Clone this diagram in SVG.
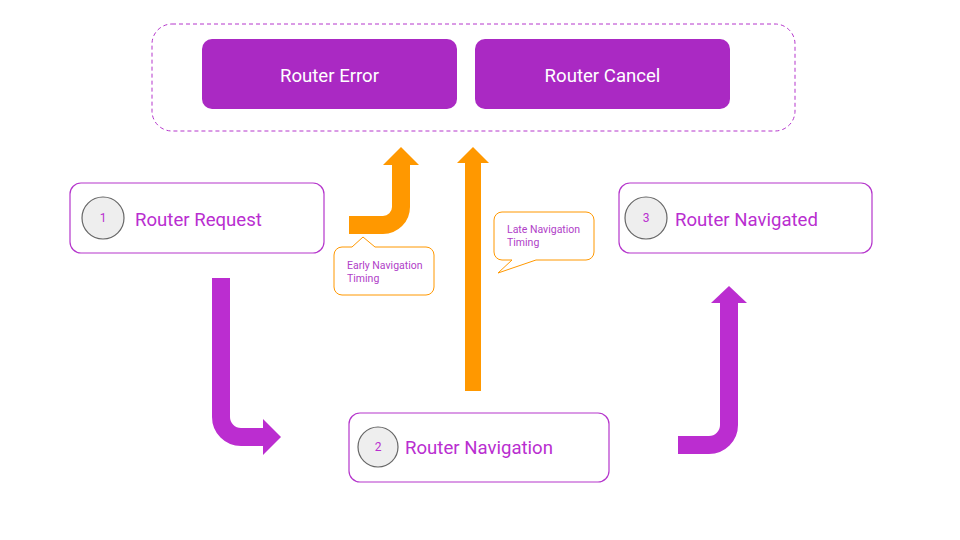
<svg xmlns="http://www.w3.org/2000/svg" width="960" height="540" viewBox="0 0 960 540">
<style>
.node rect{fill:#fff;stroke:#b536cc;stroke-width:1.2}
.solid rect{fill:#aa29c3;stroke:none}
.solid text{fill:#fff;font-family:Roboto,"Liberation Sans",sans-serif;font-size:18.6px;text-anchor:middle}
.num{fill:#eeeeee;stroke:#666;stroke-width:1.2}
.numt{fill:#b92ed0;font-family:Roboto,"Liberation Sans",sans-serif;font-size:12px;text-anchor:middle}
.lbl{fill:#b92ed0;font-family:Roboto,"Liberation Sans",sans-serif;font-size:18.6px}
.call path{fill:#fff;stroke:#ff9800;stroke-width:1}
.call text{fill:#b040c8;font-family:Roboto,"Liberation Sans",sans-serif;font-size:10.5px}
.pa{fill:none;stroke:#bb2dd0;stroke-width:18}
.oa{fill:none;stroke:#ff9800;stroke-width:18}
</style>
<rect x="152" y="24" width="643" height="107" rx="20" fill="none" stroke="#b536cc" stroke-width="1" stroke-dasharray="4,3"/>
<g id="router-error" class="solid"><rect x="202" y="39" width="255" height="70" rx="10"/><text x="329.5" y="82">Router Error</text></g>
<g id="router-cancel" class="solid"><rect x="475" y="39" width="255" height="70" rx="10"/><text x="602.5" y="82">Router Cancel</text></g>
<g id="router-request" class="node"><rect x="70" y="183" width="254" height="70" rx="11"/><circle class="num" cx="103" cy="218" r="21"/><text class="numt" x="103" y="222">1</text><text class="lbl" x="135" y="226">Router Request</text></g>
<g id="router-navigated" class="node"><rect x="619" y="183" width="253" height="70" rx="11"/><circle class="num" cx="646" cy="218" r="21"/><text class="numt" x="646" y="222">3</text><text class="lbl" x="675" y="226">Router Navigated</text></g>
<g id="router-navigation" class="node"><rect x="349" y="413" width="260" height="69" rx="11"/><circle class="num" cx="378" cy="447" r="20"/><text class="numt" x="378" y="451">2</text><text class="lbl" x="405" y="454">Router Navigation</text></g>
<g id="early-callout" class="call"><path d="M342,247 H352 L363,237 L375,247 H426 A8,8 0 0 1 434,255 V287 A8,8 0 0 1 426,295 H342 A8,8 0 0 1 334,287 V255 A8,8 0 0 1 342,247 Z"/><text x="347" y="269">Early Navigation</text><text x="347" y="282">Timing</text></g>
<g id="late-callout" class="call"><path d="M502,212 H586 A8,8 0 0 1 594,220 V252 A8,8 0 0 1 586,260 H536 L498,273 L512,260 H502 A8,8 0 0 1 494,252 V220 A8,8 0 0 1 502,212 Z"/><text x="507" y="233">Late Navigation</text><text x="507" y="246">Timing</text></g>
<g id="connectors">
<path class="pa" d="M221,278 V417 A20,20 0 0 0 241,437 H264"/>
<polygon points="263,419 263,455 281,437" fill="#bb2dd0"/>
<path class="pa" d="M678,445 H709 A20,20 0 0 0 729,425 V302"/>
<polygon points="711,303 747,303 729,286" fill="#bb2dd0"/>
<path class="oa" d="M349,225 H383 A18,18 0 0 0 401,207 V164"/>
<polygon points="383,165 419,165 401,147" fill="#ff9800"/>
<rect x="465" y="162" width="16" height="229" fill="#ff9800"/>
<polygon points="457,163 489,163 473,147" fill="#ff9800"/>
</g>
</svg>
